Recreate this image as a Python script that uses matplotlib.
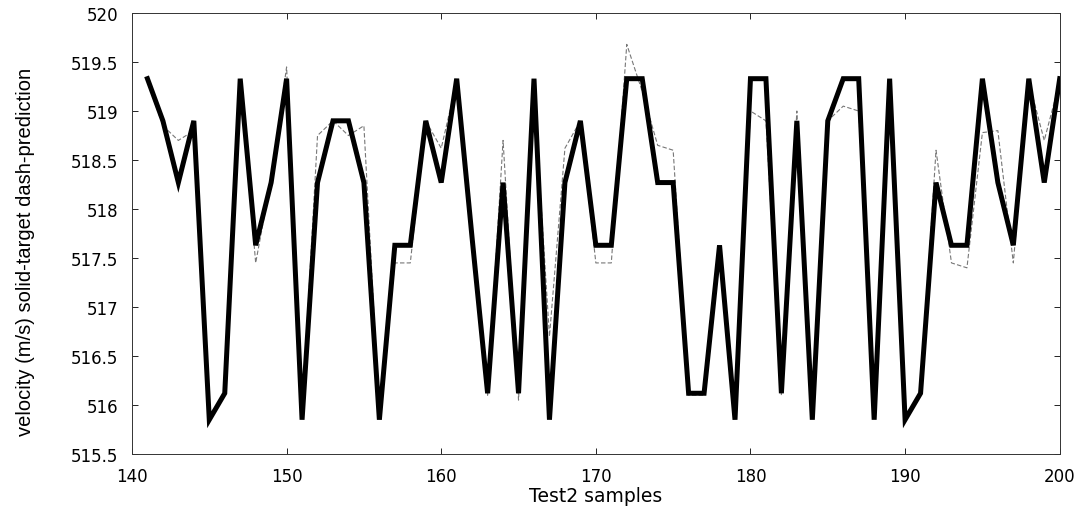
import matplotlib
matplotlib.use("Agg")
import matplotlib.pyplot as plt

plt.rcParams["font.family"] = ["DejaVu Sans"]

samples = list(range(141, 201))

target = [
    519.33, 518.9, 518.27, 518.9, 515.85, 516.12, 519.33, 517.63, 518.27, 519.33,
    515.85, 518.27, 518.9, 518.9, 518.27, 515.85, 517.63, 517.63, 518.9, 518.27,
    519.33, 517.7, 516.12, 518.27, 516.12, 519.33, 515.85, 518.27, 518.9, 517.63,
    517.63, 519.33, 519.33, 518.27, 518.27, 516.12, 516.12, 517.63, 515.85, 519.33,
    519.33, 516.12, 518.9, 515.85, 518.9, 519.33, 519.33, 515.85, 519.33, 515.85,
    516.12, 518.27, 517.63, 517.63, 519.33, 518.27, 517.63, 519.33, 518.27, 519.33,
]

prediction = [
    519.3, 518.85, 518.7, 518.8, 515.9, 516.1, 519.3, 517.45, 518.3, 519.45,
    515.9, 518.75, 518.9, 518.75, 518.85, 515.9, 517.45, 517.45, 518.9, 518.62,
    519.3, 517.7, 516.1, 518.7, 516.05, 519.2, 516.7, 518.62, 518.9, 517.45,
    517.45, 519.68, 519.2, 518.65, 518.6, 516.1, 516.1, 517.6, 515.9, 519.0,
    518.9, 516.1, 519.0, 515.9, 518.9, 519.05, 519.0, 515.9, 519.3, 515.9,
    516.1, 518.6, 517.45, 517.4, 518.78, 518.8, 517.45, 519.3, 518.7, 519.3,
]

x_ticks = [140, 150, 160, 170, 180, 190, 200]
y_ticks = [515.5, 516, 516.5, 517, 517.5, 518, 518.5, 519, 519.5, 520]
y_tick_labels = ["515.5", "516", "516.5", "517", "517.5", "518", "518.5", "519", "519.5", "520"]

fig = plt.figure(figsize=(10.88, 5.1), dpi=100)
ax = fig.add_axes([0.1213, 0.1078, 0.8527, 0.8647])

# thin dashed prediction under the thick target line
ax.plot(samples, prediction, color="#777777", linestyle=(0, (4, 2)), linewidth=0.8)
ax.plot(samples, target, color="black", linewidth=3.6, solid_joinstyle="miter")

ax.set_xlim(140, 200)
ax.set_ylim(515.5, 520)
ax.set_xticks(x_ticks)
ax.set_yticks(y_ticks)
ax.set_yticklabels(y_tick_labels)

ax.tick_params(direction="in", length=4, width=0.6, top=True, right=True,
               labelsize=12, colors="black")
ax.tick_params(axis="x", pad=9)
ax.tick_params(axis="y", pad=10)
for spine in ax.spines.values():
    spine.set_linewidth(0.7)
    spine.set_color("#333333")

ax.set_xlabel("Test2 samples", fontsize=13.5)
ax.xaxis.set_label_coords(0.5, -0.073)
ax.set_ylabel("velocity (m/s) solid-target dash-prediction", fontsize=14.5,
              family=["Liberation Sans", "DejaVu Sans"])
ax.yaxis.set_label_coords(-0.1045, 0.46)

fig.savefig("out.png", dpi=100)
